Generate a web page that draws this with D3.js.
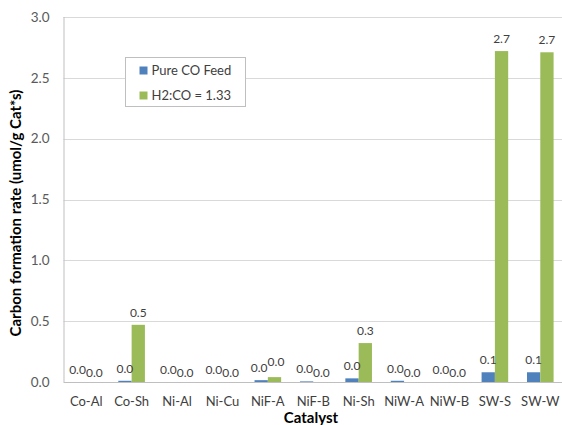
<!DOCTYPE html>
<html>
<head>
<meta charset="utf-8">
<script src="https://cdn.jsdelivr.net/npm/d3@7"></script>
<style>
  body { margin: 0; background: #fff; }
  text { font-family: "Lato", "Open Sans", sans-serif; }
</style>
</head>
<body>
<div id="chart"></div>
<script>
// data
var catalysts = ["Co-Al", "Co-Sh", "Ni-Al", "Ni-Cu", "NiF-A", "NiF-B", "Ni-Sh", "NiW-A", "NiW-B", "SW-S", "SW-W"];
var pureCO = [0.0, 0.01, 0.0, 0.0, 0.015, 0.005, 0.03, 0.01, 0.0, 0.08, 0.08];
var h2co = [0.0, 0.47, 0.0, 0.0, 0.04, 0.0, 0.32, 0.0, 0.0, 2.72, 2.71];
var seriesNames = ["Pure CO Feed", "H2:CO = 1.33"];
var yTicks = [0, 0.5, 1.0, 1.5, 2.0, 2.5, 3.0];

var colors = ["#4f81bd", "#9bbb59"];

var W = 562, H = 425;
var margin = { top: 17, right: -1, bottom: 43, left: 63.5 },
  width = W - margin.left - margin.right,
  height = H - margin.top - margin.bottom;

var svg = d3
  .select("#chart")
  .append("svg")
  .attr("width", W)
  .attr("height", H);

var g = svg.append("g")
  .attr("transform", "translate(" + margin.left + "," + margin.top + ")");

var x = d3.scaleBand().domain(catalysts).range([0, width]).paddingInner(0).paddingOuter(0);
var y = d3.scaleLinear().domain([0, 3]).range([height, 0]);
var barW = 13.3;

// gridlines
g.append("g")
  .selectAll("line")
  .data(yTicks.slice(1))
  .enter()
  .append("line")
  .attr("x1", 0)
  .attr("x2", width)
  .attr("y1", function (d) { return Math.round(y(d)) + 0.5; })
  .attr("y2", function (d) { return Math.round(y(d)) + 0.5; })
  .style("stroke", "#d9d9d9")
  .style("stroke-width", 1);

// y axis
var yAxis = g.append("g")
  .call(d3.axisLeft(y).tickValues(yTicks).tickFormat(d3.format(".1f")).tickSize(0).tickPadding(14));
yAxis.select(".domain").remove();
yAxis.selectAll("text").style("font-size", "13.5px").style("fill", "#595959");

g.append("line")
  .attr("x1", 0.5).attr("x2", 0.5)
  .attr("y1", 0).attr("y2", height)
  .style("stroke", "#bfbfbf");

// x axis
var xAxis = g.append("g")
  .attr("transform", "translate(0," + height + ")")
  .call(d3.axisBottom(x).tickSize(0).tickPadding(15));
xAxis.select(".domain").remove();
xAxis.selectAll("text").style("font-size", "13px").style("fill", "#404040");

g.append("line")
  .attr("x1", 0).attr("x2", width)
  .attr("y1", height + 0.5).attr("y2", height + 0.5)
  .style("stroke", "#bfbfbf");

// bars
var series = [pureCO, h2co];
series.forEach(function (vals, si) {
  g.append("g")
    .selectAll("rect")
    .data(vals)
    .enter()
    .append("rect")
    .attr("x", function (d, i) {
      return x(catalysts[i]) + x.bandwidth() / 2 - barW + si * barW;
    })
    .attr("y", function (d) { return y(d); })
    .attr("width", barW)
    .attr("height", function (d) { return height - y(d); })
    .style("fill", colors[si]);
});

// data labels
// labels of both bars at nearly the same height would collide
function closeLabels(i) {
  return Math.abs(y(pureCO[i]) - y(h2co[i])) < 8;
}
series.forEach(function (vals, si) {
  g.append("g")
    .selectAll("text")
    .data(vals)
    .enter()
    .append("text")
    .attr("x", function (d, i) {
      var cx = x(catalysts[i]) + x.bandwidth() / 2 - barW / 2 + si * barW;
      if (closeLabels(i)) cx += si === 1 ? 1.5 : -2;
      return cx;
    })
    .attr("y", function (d, i) {
      var yy = y(d) - 8;
      if (si === 1 && closeLabels(i)) yy += h2co[i] > pureCO[i] ? -3 : 3;
      return yy;
    })
    .attr("text-anchor", "middle")
    .style("font-size", "12px")
    .style("fill", "#404040")
    .text(function (d) { return d3.format(".1f")(d); });
});

// axis titles
svg.append("text")
  .attr("transform", "translate(21," + (margin.top + 196) + ")rotate(-90)")
  .attr("text-anchor", "middle")
  .style("font-size", "15px")
  .style("font-weight", "bold")
  .style("fill", "#000")
  .text("Carbon formation rate (umol/g Cat*s)");

svg.append("text")
  .attr("x", 311)
  .attr("y", 423)
  .attr("text-anchor", "middle")
  .style("font-size", "15px")
  .style("font-weight", "bold")
  .style("fill", "#000")
  .text("Catalyst");

// legend
var legend = svg.append("g").attr("transform", "translate(125.5,57.5)");
legend.append("rect")
  .attr("width", 120)
  .attr("height", 49)
  .style("fill", "#fff")
  .style("stroke", "#bfbfbf");

seriesNames.forEach(function (name, i) {
  var row = legend.append("g").attr("transform", "translate(14," + (9 + i * 25) + ")");
  row.append("rect")
    .attr("width", 8)
    .attr("height", 8)
    .style("fill", colors[i]);
  row.append("text")
    .attr("x", 12)
    .attr("y", 8.5)
    .style("font-size", "13px")
    .style("fill", "#404040")
    .text(name);
});
</script>
</body>
</html>
